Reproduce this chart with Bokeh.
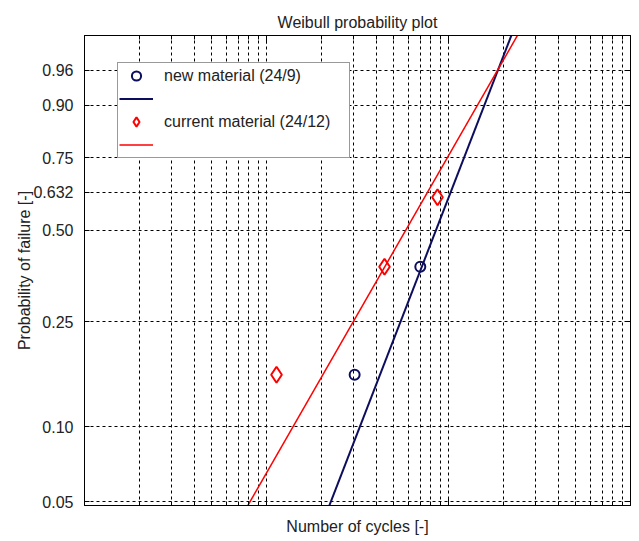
import numpy as np
from bokeh.plotting import figure
from bokeh.models import (Range1d, FixedTicker, LinearAxis, LogAxis, Legend,
                          LegendItem)
from bokeh.embed import file_html
from bokeh.resources import INLINE

# ---- data ----
new_cycles = [3.05e5, 7.0e5]
new_prob = [0.1591, 0.3864]
cur_cycles = [1.135e5, 4.45e5, 8.7e5]
cur_prob = [0.1591, 0.3864, 0.6136]

new_fit_cycles = [2.01e5, 2.41e6]
new_fit_prob = [0.04, 0.995]
cur_fit_cycles = [6.84e4, 2.71e6]
cur_fit_prob = [0.04, 0.995]

prob_ticks = [0.05, 0.10, 0.25, 0.50, 0.632, 0.75, 0.90, 0.96]
prob_labels = ["0.05", "0.10", "0.25", "0.50", "0.632", "0.75", "0.90", "0.96"]
decade_ticks = [1e4, 1e5, 1e6, 1e7]
minor_mult = [2, 3, 4, 5, 6, 7, 8, 9]

# ---- Weibull probability scale ----
def wb(f):
    f = np.asarray(f, dtype=float)
    return np.log(-np.log(1.0 - f))

y_ticks = [float(v) for v in wb(prob_ticks)]
minor_x = [m * d for d in decade_ticks[:-1] for m in minor_mult]
all_x = sorted(decade_ticks + minor_x)

FONT = "Liberation Sans"
TXT = "#222222"
NAVY = "#0d0d5e"
RED = "#ff0000"

p = figure(width=632, height=537, x_axis_type="log",
           x_range=Range1d(1e4, 1e7), y_range=Range1d(-3.008, 1.502),
           output_backend="svg", toolbar_location=None,
           min_border_left=84, min_border_top=35, min_border_right=2,
           min_border_bottom=32)

p.title.text = "Weibull probability plot"
p.title.align = "center"
p.title.text_font = FONT
p.title.text_font_size = "16px"
p.title.text_font_style = "normal"
p.title.text_color = TXT

p.outline_line_color = "black"
p.outline_line_width = 1

# grids
p.xgrid.ticker = FixedTicker(ticks=all_x)
p.ygrid.ticker = FixedTicker(ticks=y_ticks)
for g in (p.xgrid, p.ygrid):
    g.grid_line_color = "black"
    g.grid_line_dash = "3 3"
    g.grid_line_width = 1

# bottom axis
xa = p.xaxis[0]
xa.ticker = FixedTicker(ticks=decade_ticks, minor_ticks=minor_x)
xa.major_label_text_font_size = "1px"
xa.major_label_text_alpha = 0
xa.major_label_standoff = 0
xa.major_tick_in = 8
xa.major_tick_out = 0
xa.minor_tick_in = 4
xa.minor_tick_out = 0
xa.axis_label = "Number of cycles [-]"
xa.axis_label_text_font = FONT
xa.axis_label_text_font_size = "16px"
xa.axis_label_text_font_style = "normal"
xa.axis_label_text_color = TXT
xa.axis_label_standoff = 12
xa.axis_line_color = "black"

# left axis
ya = p.yaxis[0]
ya.ticker = FixedTicker(ticks=y_ticks)
ya.major_label_overrides = {y: lab for y, lab in zip(y_ticks, prob_labels)}
ya.major_label_text_font = FONT
ya.major_label_text_font_size = "16px"
ya.major_label_text_color = TXT
ya.major_label_standoff = 11
ya.major_tick_in = 5
ya.major_tick_out = 0
ya.minor_tick_line_color = None
ya.axis_label = "Probability of failure [-]"
ya.axis_label_text_font = FONT
ya.axis_label_text_font_size = "16px"
ya.axis_label_text_font_style = "normal"
ya.axis_label_text_color = TXT
ya.axis_label_standoff = -3
ya.axis_line_color = "black"

# right and top tick axes (no labels)
ra = LinearAxis(ticker=FixedTicker(ticks=y_ticks), major_label_text_font_size="1px",
                major_label_text_alpha=0,
                major_label_standoff=0, major_tick_in=5, major_tick_out=0,
                minor_tick_line_color=None, axis_line_color="black")
p.add_layout(ra, "right")
ta = LogAxis(ticker=FixedTicker(ticks=decade_ticks, minor_ticks=minor_x),
             major_label_text_font_size="1px", major_label_text_alpha=0,
             major_label_standoff=0,
             major_tick_in=8, major_tick_out=0, minor_tick_in=4, minor_tick_out=0,
             axis_line_color="black")
p.add_layout(ta, "above")

# fit lines
r_new_line = p.line(new_fit_cycles, list(wb(new_fit_prob)), line_color=NAVY, line_width=2)
r_cur_line = p.line(cur_fit_cycles, list(wb(cur_fit_prob)), line_color=RED, line_width=1.5)

# points
r_new_pts = p.scatter(new_cycles, list(wb(new_prob)), marker="circle", size=10,
                      fill_color=None, line_color=NAVY, line_width=2)
r_cur_pts = p.scatter(cur_cycles, list(wb(cur_prob)), marker="diamond", size=16,
                      fill_color=None, line_color=RED, line_width=2)

legend = Legend(items=[
    LegendItem(label="new material (24/9)", renderers=[r_new_pts]),
    LegendItem(label=" ", renderers=[r_new_line]),
    LegendItem(label="current material (24/12)", renderers=[r_cur_pts]),
    LegendItem(label=" ", renderers=[r_cur_line]),
], location=(33, 347))
legend.label_text_font = FONT
legend.label_text_font_size = "16px"
legend.label_text_color = TXT
legend.glyph_width = 34
legend.glyph_height = 23
legend.label_height = 20
legend.label_width = 184
legend.spacing = 0
legend.padding = 1
legend.margin = 0
legend.label_standoff = 11
legend.border_line_color = "#333333"
legend.border_line_width = 1
legend.background_fill_alpha = 1
p.add_layout(legend, "center")

open("out.html", "w").write(file_html(p, INLINE))
